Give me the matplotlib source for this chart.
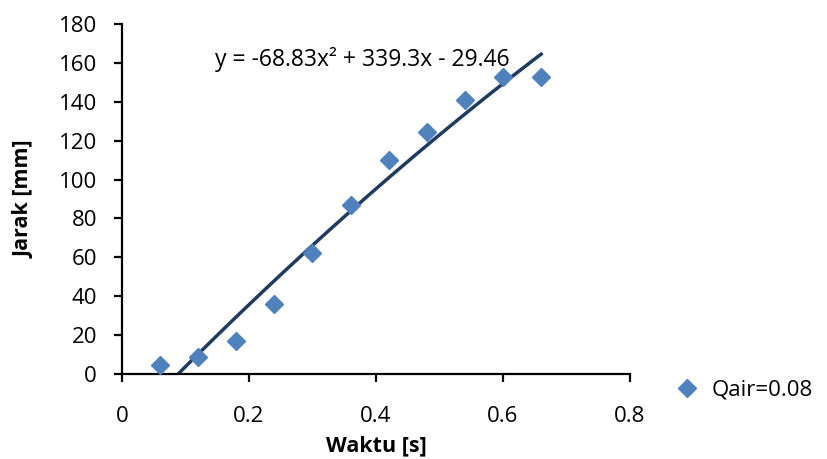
import numpy as np
from matplotlib import pyplot as plt

# data
waktu = [0.06, 0.12, 0.18, 0.24, 0.30, 0.36, 0.42, 0.48, 0.54, 0.60, 0.66]
jarak = [4.6, 8.7, 17.0, 36.0, 62.0, 87.0, 110.0, 124.5, 141.0, 153.0, 152.5]
coef = [-68.83, 339.3, -29.46]  # trendline as given in the chart label
x_ticks = [0, 0.2, 0.4, 0.6, 0.8]
y_ticks = [0, 20, 40, 60, 80, 100, 120, 140, 160, 180]

plt.rcParams['font.family'] = ['Open Sans', 'DejaVu Sans']

fig = plt.figure(figsize=(8.28, 4.59), dpi=100)
ax = fig.add_axes([0.1473, 0.1852, 0.6136, 0.7625])

x0 = np.roots(coef).real
x0 = x0[(x0 > 0) & (x0 < waktu[0] * 2)][0]
xs = np.linspace(x0, waktu[-1], 100)
ax.plot(xs, np.polyval(coef, xs), color='#1f3b60', lw=2.5, zorder=2)
ax.plot(waktu, jarak, ls='none', marker='D', ms=9.5, color='#4f81bd',
        mec='#4f81bd', label='Qair=0.08', zorder=3)

ax.set_xlim(0, 0.8)
ax.set_ylim(0, 180)
ax.set_xticks(x_ticks)
ax.set_xticklabels(['0', '0.2', '0.4', '0.6', '0.8'])
ax.set_yticks(y_ticks)
for s in ['top', 'right']:
    ax.spines[s].set_visible(False)
for s in ['left', 'bottom']:
    ax.spines[s].set_linewidth(1.6)
ax.tick_params(axis='x', direction='out', length=6, width=1.6, pad=17, labelsize=16)
ax.tick_params(axis='y', direction='out', length=6, width=1.6, pad=12, labelsize=16)

ax.set_xlabel('Waktu [s]', fontsize=15.5, fontweight='bold', labelpad=6)
ax.set_ylabel('Jarak [mm]', fontsize=15.5, fontweight='bold', labelpad=17)

ax.text(0.146, 161.5, 'y = -68.83x\u00b2 + 339.3x - 29.46', fontsize=16.5, va='center')

fig.legend(loc='center left', bbox_to_anchor=(0.79, 0.15), frameon=False,
           fontsize=16, handletextpad=0.5, handlelength=1.2)

fig.savefig('out.png', dpi=100)
